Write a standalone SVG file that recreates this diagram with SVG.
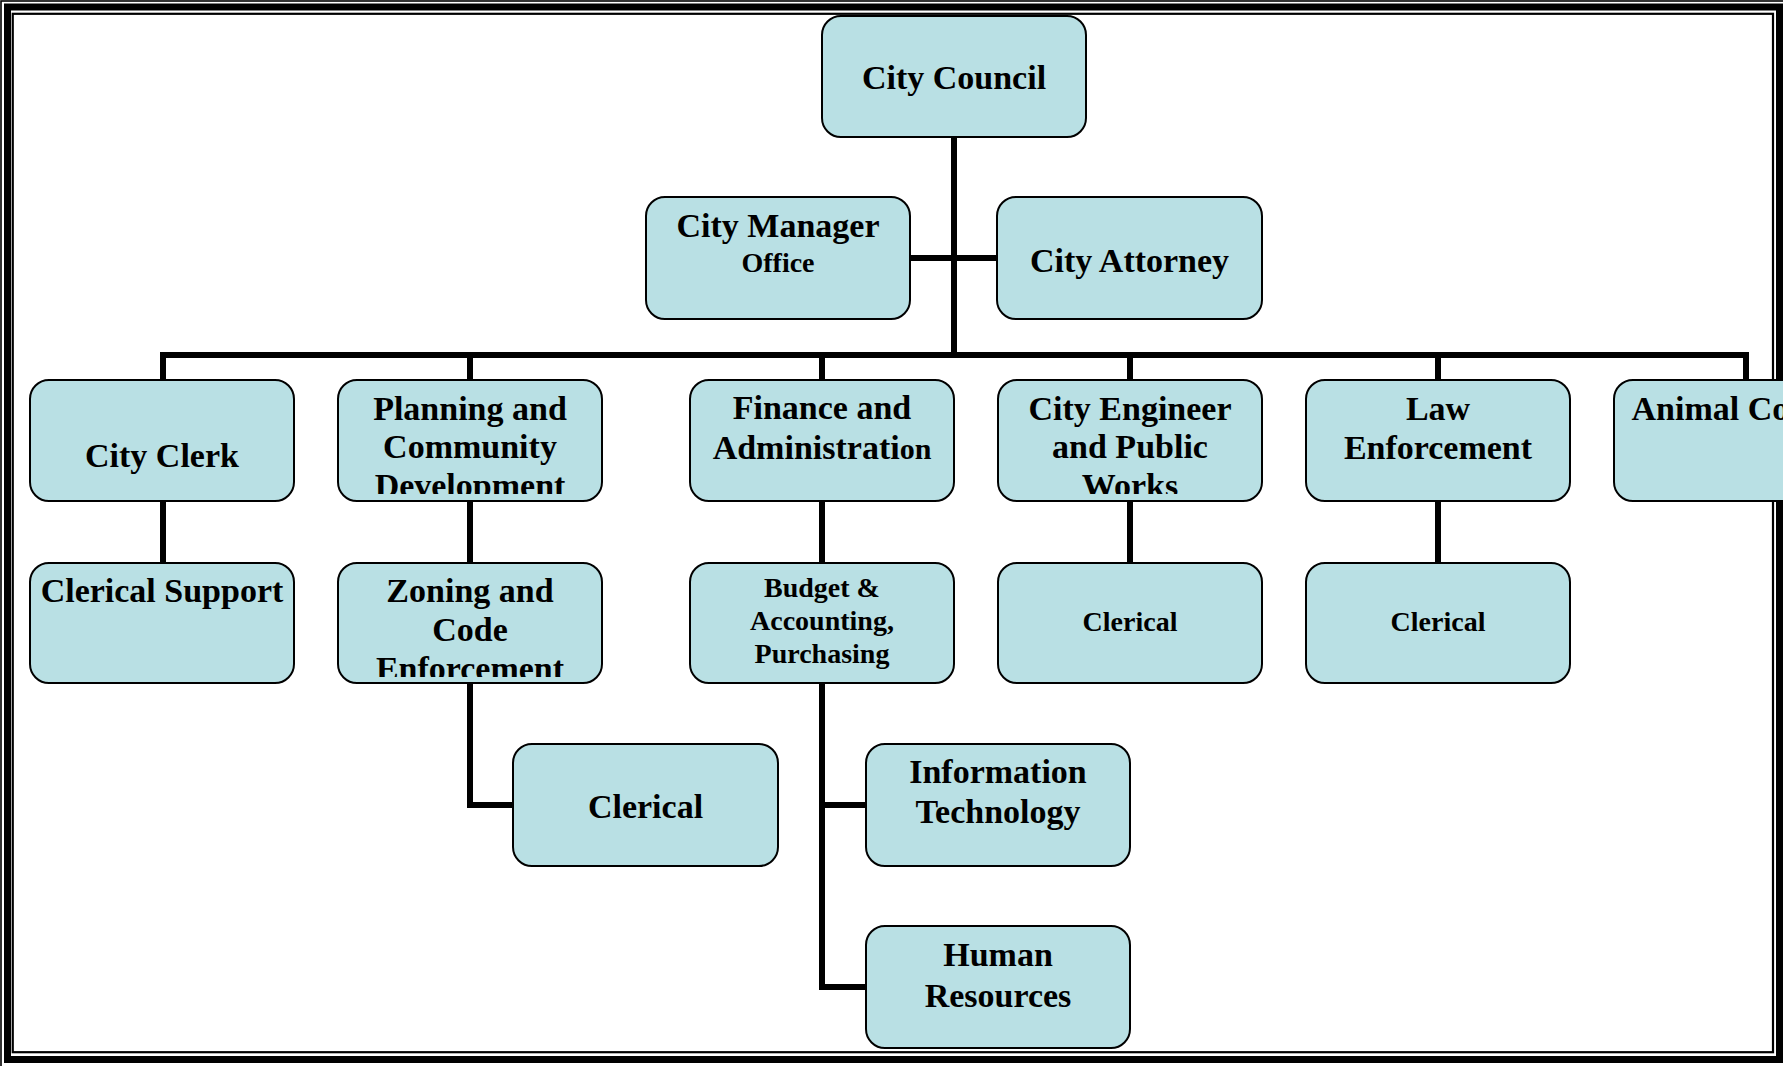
<svg xmlns="http://www.w3.org/2000/svg" width="1783" height="1066" viewBox="0 0 1783 1066">
<style>
.box{fill:#B9E0E4;stroke:#000;stroke-width:2}
.t{font-family:"Liberation Serif","Times New Roman",serif;font-weight:bold;font-size:34px;fill:#000;text-anchor:middle}
.s{font-size:28px}
.c{fill:none;stroke:#000;stroke-width:6;stroke-linejoin:miter;stroke-linecap:butt}
.f{fill:none;stroke:#000}
</style>
<defs>
<clipPath id="clipPlan"><rect x="338" y="380" width="264" height="114"/></clipPath>
<clipPath id="clipEng"><rect x="998" y="380" width="264" height="114"/></clipPath>
<clipPath id="clipZon"><rect x="338" y="563" width="264" height="114"/></clipPath>
</defs>
<rect x="0" y="0" width="1783" height="1066" fill="#fff"/>
<g id="frame">
<rect class="f" x="1" y="1" width="1800" height="1100" stroke-width="1.6"/>
<rect class="f" x="7.5" y="7" width="1772" height="1052.5" stroke-width="7"/>
<rect class="f" x="12.75" y="13.8" width="1760.25" height="1038.4" stroke-width="2.2"/>
</g>
<g id="connectors">
<path class="c" d="M954,137 V358"/>
<path class="c" d="M910,258 H997"/>
<path class="c" d="M163,380 V355 H1746 V380"/>
<path class="c" d="M470,355 V380 M822,355 V380 M1130,355 V380 M1438,355 V380"/>
<path class="c" d="M163,501 V563"/>
<path class="c" d="M470,501 V563"/>
<path class="c" d="M822,501 V563"/>
<path class="c" d="M1130,501 V563"/>
<path class="c" d="M1438,501 V563"/>
<path class="c" d="M470,683 V805 H513"/>
<path class="c" d="M822,683 V987 H866"/>
<path class="c" d="M822,805 H866"/>
</g>
<g id="n-council"><rect class="box" x="822" y="16" width="264" height="121" rx="19"/><text class="t" x="954" y="89">City Council</text></g>
<g id="n-manager"><rect class="box" x="646" y="197" width="264" height="122" rx="19"/><text class="t" x="778" y="237">City Manager</text><text class="t s" x="778" y="272">Office</text></g>
<g id="n-attorney"><rect class="box" x="997" y="197" width="265" height="122" rx="19"/><text class="t" x="1129.5" y="272">City Attorney</text></g>
<g id="n-clerk"><rect class="box" x="30" y="380" width="264" height="121" rx="19"/><text class="t" x="162" y="467">City Clerk</text></g>
<g id="n-planning"><rect class="box" x="338" y="380" width="264" height="121" rx="19"/><g clip-path="url(#clipPlan)"><text class="t" x="470" y="420">Planning and</text><text class="t" x="470" y="458">Community</text><text class="t" x="470" y="497">Development</text></g></g>
<g id="n-finance"><rect class="box" x="690" y="380" width="264" height="121" rx="19"/><text class="t" x="822" y="419">Finance and</text><text class="t" x="822" y="459">Administrati<tspan font-size="30">on</tspan></text></g>
<g id="n-engineer"><rect class="box" x="998" y="380" width="264" height="121" rx="19"/><g clip-path="url(#clipEng)"><text class="t" x="1130" y="420">City Engineer</text><text class="t" x="1130" y="458">and Public</text><text class="t" x="1130" y="497">Works</text></g></g>
<g id="n-law"><rect class="box" x="1306" y="380" width="264" height="121" rx="19"/><text class="t" x="1438" y="420">Law</text><text class="t" x="1438" y="459">Enforcement</text></g>
<g id="n-animal"><rect class="box" x="1614" y="380" width="264" height="121" rx="19"/><text class="t" x="1746" y="420">Animal Control</text></g>
<g id="n-clericalsupport"><rect class="box" x="30" y="563" width="264" height="120" rx="19"/><text class="t" x="162" y="602">Clerical Support</text></g>
<g id="n-zoning"><rect class="box" x="338" y="563" width="264" height="120" rx="19"/><g clip-path="url(#clipZon)"><text class="t" x="470" y="602">Zoning and</text><text class="t" x="470" y="641">Code</text><text class="t" x="470" y="680">Enforcement</text></g></g>
<g id="n-budget"><rect class="box" x="690" y="563" width="264" height="120" rx="19"/><text class="t s" x="822" y="597">Budget &amp;</text><text class="t s" x="822" y="630">Accounting,</text><text class="t s" x="822" y="663">Purchasing</text></g>
<g id="n-clerical-eng"><rect class="box" x="998" y="563" width="264" height="120" rx="19"/><text class="t s" x="1130" y="631">Clerical</text></g>
<g id="n-clerical-law"><rect class="box" x="1306" y="563" width="264" height="120" rx="19"/><text class="t s" x="1438" y="631">Clerical</text></g>
<g id="n-clerical-plan"><rect class="box" x="513" y="744" width="265" height="122" rx="19"/><text class="t" x="645.5" y="818">Clerical</text></g>
<g id="n-it"><rect class="box" x="866" y="744" width="264" height="122" rx="19"/><text class="t" x="998" y="783">Information</text><text class="t" x="998" y="823">Technology</text></g>
<g id="n-hr"><rect class="box" x="866" y="926" width="264" height="122" rx="19"/><text class="t" x="998" y="966">Human</text><text class="t" x="998" y="1007">Resources</text></g>
</svg>
